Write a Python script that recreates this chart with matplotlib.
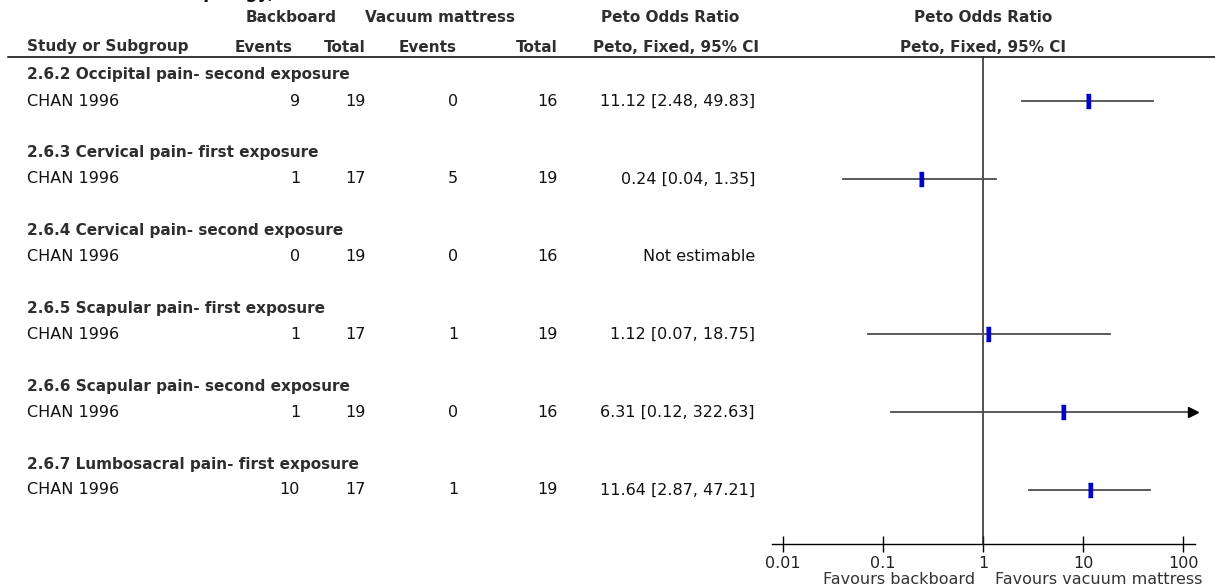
import numpy as np
import matplotlib.pyplot as plt
from matplotlib.lines import Line2D

plt.rcParams['font.family'] = ['DejaVu Sans']

# data
subgroups = ["2.6.2 Occipital pain- second exposure",
             "2.6.3 Cervical pain- first exposure",
             "2.6.4 Cervical pain- second exposure",
             "2.6.5 Scapular pain- first exposure",
             "2.6.6 Scapular pain- second exposure",
             "2.6.7 Lumbosacral pain- first exposure"]
studies = ["CHAN 1996"] * 6
bbEvents = [9, 1, 0, 1, 1, 10]
bbTotal = [19, 17, 19, 17, 19, 17]
vmEvents = [0, 5, 0, 1, 0, 1]
vmTotal = [16, 19, 16, 19, 16, 19]
orValues = [11.12, 0.24, np.nan, 1.12, 6.31, 11.64]
ciLow = [2.48, 0.04, np.nan, 0.07, 0.12, 2.87]
ciHigh = [49.83, 1.35, np.nan, 18.75, 322.63, 47.21]
tickValues = [0.01, 0.1, 1, 10, 100]
tickLabels = ["0.01", "0.1", "1", "10", "100"]

W, H = 1215, 588
fig = plt.figure(figsize=(W / 100, H / 100), dpi=100)

# background axes in pixel coordinates for the table part
bg = fig.add_axes([0, 0, 1, 1])
bg.set_xlim(0, W)
bg.set_ylim(H, 0)
bg.axis("off")

fs = 11.5
fsBold = 11
dark = "#111111"
head = "#2e2e2e"

# title, cut off at the top edge like in the reference
bg.text(23, -2.5, "Outcome 6 Pain topology, (Peto Fixed Effect)", fontsize=12.5,
        fontweight="bold", va="baseline", ha="left", color=dark)

# column headers
bold = dict(fontsize=fsBold, fontweight="bold", va="center", color=head)
bg.text(291, 18, "Backboard", ha="center", **bold)
bg.text(440, 18, "Vacuum mattress", ha="center", **bold)
bg.text(670, 18, "Peto Odds Ratio", ha="center", **bold)
bg.text(983, 18, "Peto Odds Ratio", ha="center", **bold)
bg.text(27, 47, "Study or Subgroup", ha="left", **bold)
bg.text(264, 47, "Events", ha="center", **bold)
bg.text(366, 47, "Total", ha="right", **bold)
bg.text(428, 47, "Events", ha="center", **bold)
bg.text(558, 47, "Total", ha="right", **bold)
bg.text(676, 47, "Peto, Fixed, 95% CI", ha="center", **bold)
bg.text(983, 47, "Peto, Fixed, 95% CI", ha="center", **bold)
bg.add_line(Line2D([8, W], [57, 57], color="black", lw=1.1))

# rows
plain = dict(fontsize=fs, va="center", color=dark)
headY = 75 + 77.8 * np.arange(len(subgroups))
rowY = headY + 26
for i in range(len(subgroups)):
    bg.text(27, headY[i], subgroups[i], ha="left", **bold)
    bg.text(27, rowY[i], studies[i], ha="left", **plain)
    bg.text(300, rowY[i], str(bbEvents[i]), ha="right", **plain)
    bg.text(366, rowY[i], str(bbTotal[i]), ha="right", **plain)
    bg.text(458, rowY[i], str(vmEvents[i]), ha="right", **plain)
    bg.text(558, rowY[i], str(vmTotal[i]), ha="right", **plain)
    if np.isnan(orValues[i]):
        ciText = "Not estimable"
    else:
        ciText = f"{orValues[i]:.2f} [{ciLow[i]:.2f}, {ciHigh[i]:.2f}]"
    bg.text(755, rowY[i], ciText, ha="right", **plain)

# forest plot axes
axTop, axBottom = 57, 544
ax = fig.add_axes([783 / W, 1 - axBottom / H, 400 / W, (axBottom - axTop) / H])
ax.set_xscale("log")
ax.set_xlim(0.01, 100)
ax.set_ylim(axBottom, axTop)
ax.patch.set_visible(False)
for s in ax.spines.values():
    s.set_visible(False)
ax.set_xticks(tickValues)
ax.set_xticklabels(tickLabels)
ax.minorticks_off()
ax.tick_params(axis="x", direction="inout", length=12, width=1, pad=3,
               labelsize=fs, labelcolor="#222222")
ax.set_yticks([])

ax.plot([10 ** -2.11, 10 ** 2.12], [axBottom, axBottom], color="black", lw=1, clip_on=False)
ax.plot([1, 1], [axTop, axBottom], color="#222222", lw=1.1, clip_on=False)

xMax = 10 ** 2.1
box = [(-1, -3.3), (1, -3.3), (1, 3.3), (-1, 3.3)]
for i in range(len(subgroups)):
    if np.isnan(orValues[i]):
        continue
    hi = min(ciHigh[i], xMax)
    ax.plot([ciLow[i], hi], [rowY[i], rowY[i]], color="#4d4d4d", lw=1.3, clip_on=False)
    if ciHigh[i] > xMax:
        ax.plot(xMax, rowY[i], marker=">", color="black", markersize=7, clip_on=False)
    ax.plot(orValues[i], rowY[i], marker=box, color="#0000c8", markersize=10, clip_on=False)

bg.text(975, 579, "Favours backboard", fontsize=fs, ha="right", va="center", color="#333333")
bg.text(995, 579, "Favours vacuum mattress", fontsize=fs, ha="left", va="center", color="#333333")

fig.savefig("out.png", dpi=100)
